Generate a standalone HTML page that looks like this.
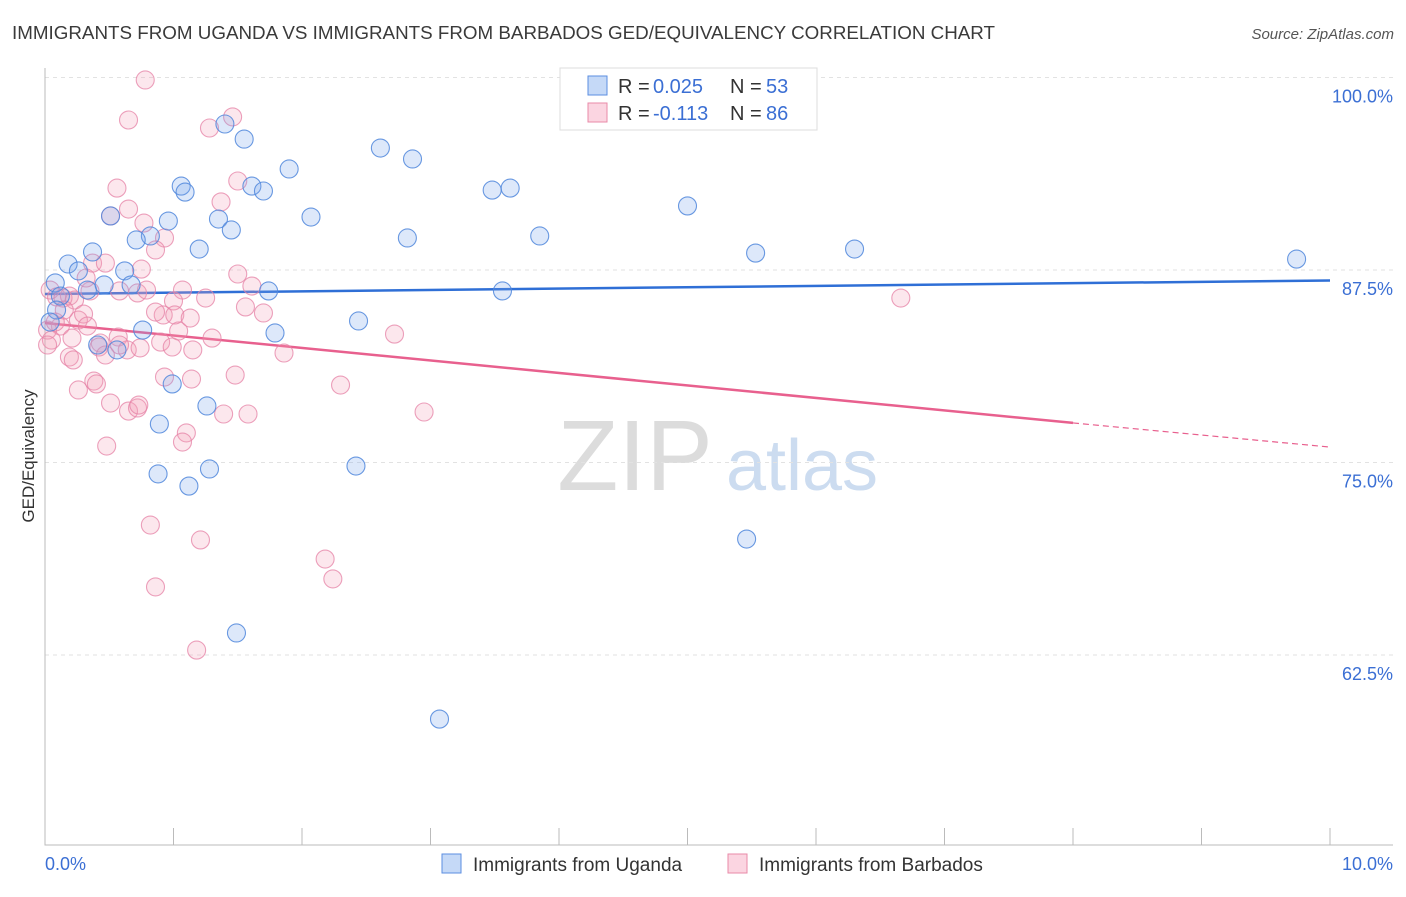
<!DOCTYPE html>
<html><head><meta charset="utf-8"><style>
body{margin:0;background:#fff;font-family:"Liberation Sans",sans-serif}
svg text{font-family:"Liberation Sans",sans-serif}
</style></head><body>
<svg id="chart" width="1406" height="892" xmlns="http://www.w3.org/2000/svg">
<text x="12" y="39" font-size="18" fill="#3a3a3a" textLength="983" lengthAdjust="spacingAndGlyphs">IMMIGRANTS FROM UGANDA VS IMMIGRANTS FROM BARBADOS GED/EQUIVALENCY CORRELATION CHART</text>
<text x="1394" y="39" font-size="15" fill="#555" text-anchor="end" font-style="italic">Source: ZipAtlas.com</text>
<g><text x="635" y="490" font-size="100" fill="#dcdcdc" text-anchor="middle" font-family="Liberation Serif">ZIP</text><text x="802" y="490" font-size="72" fill="#ccdcf0" text-anchor="middle">atlas</text></g>
<g id="grid"></g><g id="axes"></g><g id="trends"></g><g id="points"></g>
<text transform="translate(34,456) rotate(-90)" font-size="17" fill="#333" text-anchor="middle">GED/Equivalency</text>
<g>
<rect x="560" y="68" width="257" height="62" fill="#fff" stroke="#ddd"/>
<rect x="588" y="76" width="19" height="19" fill="rgba(110,160,235,0.4)" stroke="#5b8ee0"/>
<text x="618" y="93" font-size="20" fill="#333">R =</text><text x="653" y="93" font-size="20" fill="#3b6fd4">0.025</text>
<text x="730" y="93" font-size="20" fill="#333">N =</text><text x="766" y="93" font-size="20" fill="#3b6fd4">53</text>
<rect x="588" y="103" width="19" height="19" fill="rgba(245,150,180,0.4)" stroke="#e88aa8"/>
<text x="618" y="120" font-size="20" fill="#333">R =</text><text x="653" y="120" font-size="20" fill="#3b6fd4">-0.113</text>
<text x="730" y="120" font-size="20" fill="#333">N =</text><text x="766" y="120" font-size="20" fill="#3b6fd4">86</text>
</g>
<g><rect x="442" y="854" width="19" height="19" fill="rgba(110,160,235,0.4)" stroke="#5b8ee0"/><text x="473" y="871" font-size="19" fill="#333">Immigrants from Uganda</text></g>
<g><rect x="728" y="854" width="19" height="19" fill="rgba(245,150,180,0.4)" stroke="#e88aa8"/><text x="759" y="871" font-size="19" fill="#333">Immigrants from Barbados</text></g>
</svg>
<script>
const ugandaX=[1.40,1.55,2.61,2.86,1.90,1.06,1.09,1.61,1.70,3.48,3.62,2.07,0.96,1.35,1.45,0.51,0.82,0.71,2.82,3.85,5.00,0.37,1.20,5.53,6.30,9.74,0.18,0.26,0.62,0.08,0.46,0.67,0.33,0.12,1.74,3.56,0.09,1.79,0.76,2.44,0.41,0.56,0.99,1.26,0.89,1.28,0.88,2.42,1.12,5.46,1.49,3.07,0.04];
const ugandaY=[96.98,96.0,95.42,94.71,94.06,92.95,92.56,92.95,92.63,92.69,92.82,90.94,90.68,90.81,90.10,91.01,89.71,89.45,89.58,89.71,91.66,88.67,88.86,88.60,88.86,88.21,87.89,87.44,87.44,86.66,86.53,86.53,86.20,85.81,86.14,86.14,84.90,83.41,83.60,84.19,82.63,82.31,80.10,78.67,77.50,74.58,74.26,74.77,73.47,70.03,63.93,58.34,84.12];
const barbadosX=[0.78,1.46,0.65,1.28,0.56,1.50,0.51,0.65,1.37,0.77,0.93,0.86,0.37,0.47,0.75,1.50,1.07,1.25,1.61,0.04,0.09,0.19,0.14,0.23,0.35,0.58,0.72,1.00,1.56,1.70,0.92,0.26,0.30,0.33,0.12,0.02,0.05,0.21,0.57,1.04,2.72,0.43,0.42,0.64,0.90,0.99,1.15,1.86,0.19,0.22,0.47,0.74,0.26,0.38,0.40,0.93,1.14,1.48,0.51,0.65,0.72,0.73,1.39,1.58,2.30,2.95,1.10,1.07,0.48,0.82,1.21,2.18,2.24,0.86,1.18,6.66,0.02,0.08,0.15,0.32,0.79,0.86,1.01,1.30,0.58,1.13];
const barbadosY=[99.84,97.44,97.24,96.72,92.82,93.28,91.01,91.46,91.92,90.55,89.58,88.80,87.95,87.95,87.56,87.24,86.20,85.68,86.46,86.20,85.75,85.81,85.68,85.55,86.14,86.14,86.01,85.49,85.10,84.71,84.58,84.25,84.64,83.86,83.86,83.60,82.95,83.08,83.15,83.54,83.34,82.76,82.50,82.31,82.82,82.50,82.31,82.11,81.85,81.66,81.98,82.44,79.71,80.29,80.10,80.55,80.42,80.68,78.86,78.34,78.54,78.73,78.15,78.15,80.03,78.28,76.92,76.33,76.07,70.94,69.97,68.73,67.44,66.92,62.82,85.68,82.63,84.12,84.90,86.98,86.20,84.77,84.58,83.08,82.63,84.38];
const yTicks=[100,87.5,75,62.5];
const yTickLabels=["100.0%","87.5%","75.0%","62.5%"];
const xTicks=[0,1,2,3,4,5,6,7,8,9,10];
const xEndLabels=["0.0%","10.0%"];
const ugandaTrend=[85.94,86.82];
const barbadosTrend=[84.06,77.57,76.0];
const barbadosSolidEnd=8;

const NS="http://www.w3.org/2000/svg";
const X=v=>45+v*128.5;
const Y=v=>77.5+(100-v)*15.4;
function mk(t,a,p){const e=document.createElementNS(NS,t);for(const k in a)e.setAttribute(k,a[k]);p.appendChild(e);return e;}
const grid=document.getElementById('grid'),axes=document.getElementById('axes'),tr=document.getElementById('trends'),pts=document.getElementById('points');
yTicks.forEach((v,i)=>{
 const l=mk('line',{x1:45,x2:1393,y1:Y(v),y2:Y(v),stroke:'#e2e2e2','stroke-dasharray':'4,4'},grid);
 
 
 const t=mk('text',{x:1393,y:Y(v)+25,'font-size':18,fill:'#3b6fd4','text-anchor':'end'},grid);
 t.textContent=yTickLabels[i];
 
 
});
const ax=mk('path',{d:'M45 68 V845 H1393',stroke:'#bbb',fill:'none'},axes);


xTicks.forEach(v=>{
 const t=mk('line',{x1:X(v),x2:X(v),y1:845,y2:828,stroke:'#bbb'},axes);
 
 
});
[[0,'start',45],[10,'end',1393]].forEach((d,i)=>{
 const t=mk('text',{x:d[2],y:870,'font-size':18,fill:'#3b6fd4','text-anchor':d[1]},axes);
 t.textContent=xEndLabels[i];
 
 
});
function dots(xs,ys,fill,stroke,name){xs.forEach((x,i)=>{
 const c=mk('circle',{cx:X(x),cy:Y(ys[i]),r:9,fill:fill,stroke:stroke,'stroke-width':1.1},pts);
 
 
});}
dots(barbadosX,barbadosY,'rgba(245,160,185,0.25)','rgba(230,130,165,0.75)','barbados-point');
dots(ugandaX,ugandaY,'rgba(120,165,235,0.25)','rgba(80,135,220,0.85)','uganda-point');
let a=mk('line',{x1:X(0),y1:Y(ugandaTrend[0]),x2:X(10),y2:Y(ugandaTrend[1]),stroke:'#2f6fd6','stroke-width':2.5},tr);


let b=mk('line',{x1:X(0),y1:Y(barbadosTrend[0]),x2:X(barbadosSolidEnd),y2:Y(barbadosTrend[1]),stroke:'#e8608e','stroke-width':2.5},tr);


let c=mk('line',{x1:X(barbadosSolidEnd),y1:Y(barbadosTrend[1]),x2:X(10),y2:Y(barbadosTrend[2]),stroke:'#e8608e','stroke-width':1.2,'stroke-dasharray':'6,4'},tr);


</script>
</body></html>
